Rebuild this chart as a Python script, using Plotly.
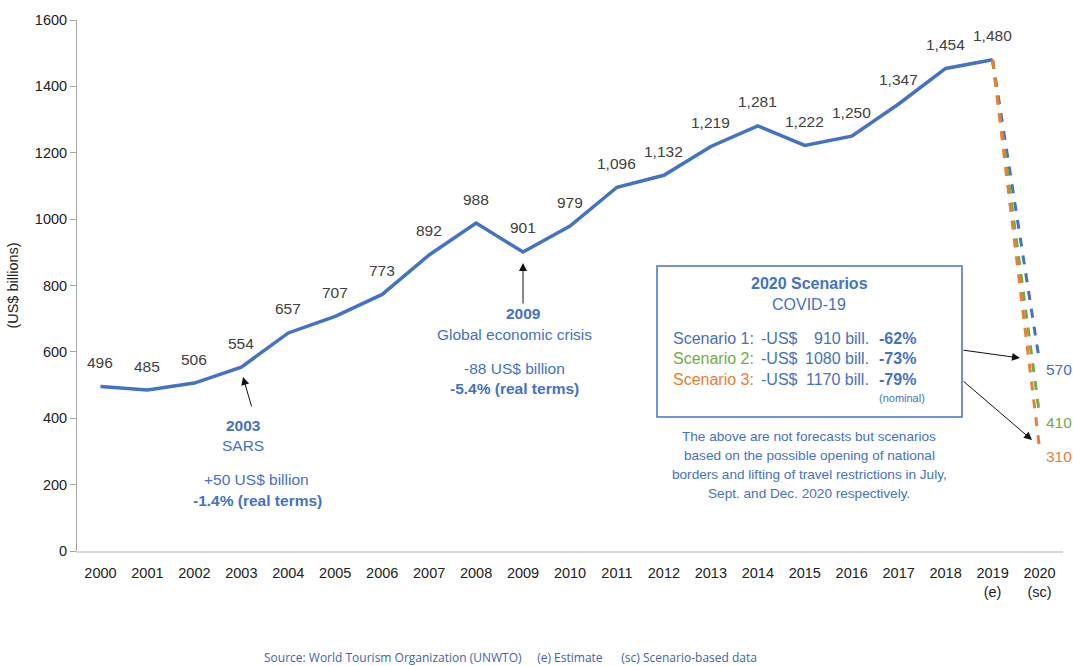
import plotly.graph_objects as go

years = list(range(2000, 2020))
receipts = [496, 485, 506, 554, 657, 707, 773, 892, 988, 901, 979, 1096, 1132,
            1219, 1281, 1222, 1250, 1347, 1454, 1480]
scenario_names = ["Scenario 1", "Scenario 2", "Scenario 3"]
scenario_2020 = [570, 410, 310]
scenario_colors = ["#4472C4", "#70AD47", "#ED7D31"]
scenario_loss = ["910 bill.", "1080 bill.", "1170 bill."]
scenario_pct = ["-62%", "-73%", "-79%"]
tick_years = list(range(2000, 2021))
tick_labels = [str(y) for y in range(2000, 2019)] + ["2019<br>(e)", "2020<br>(sc)"]

BLUE = "#4472C4"
W, H = 1073, 666
L, R, T, B = 77, 10, 20, 115


def px(x):
    return (x - L) / (W - L - R)


def py(y):
    return (H - B - y) / (H - T - B)


fig = go.Figure()
fig.add_trace(go.Scatter(x=years, y=receipts, mode="lines",
                         line=dict(color=BLUE, width=3.5), showlegend=False,
                         hoverinfo="skip"))
for name, v, c in zip(scenario_names, scenario_2020, scenario_colors):
    fig.add_trace(go.Scatter(x=[years[-1], 2020], y=[receipts[-1], v], mode="lines",
                             line=dict(color=c, width=3, dash="dash"),
                             name=name, showlegend=False, hoverinfo="skip"))

ann = []
for x, v in zip(years, receipts):
    ann.append(dict(x=x, y=v, text=f"{v:,}", showarrow=False, yshift=24,
                    font=dict(size=15.5, color="#404040")))
for v, c in zip(scenario_2020, scenario_colors):
    ann.append(dict(x=2020, y=v, text=str(v), showarrow=False, xanchor="left",
                    xshift=4, yshift=-8, font=dict(size=15.5, color=c)))


def txt(x, y, t, size=15.5, color=BLUE, bold=False, xanchor="center"):
    if bold:
        t = f"<b>{t}</b>"
    ann.append(dict(xref="paper", yref="paper", x=px(x), y=py(y), text=t,
                    showarrow=False, xanchor=xanchor, yanchor="middle",
                    font=dict(size=size, color=color)))


# 2003 SARS
txt(243, 425, "2003", bold=True)
txt(243, 446, "SARS")
txt(256, 479, "+50 US$ billion")
txt(257, 500, "-1.4% (real terms)", bold=True)
# 2009
txt(523, 313, "2009", bold=True)
txt(514, 334, "Global economic crisis")
txt(514, 368, "-88 US$ billion")
txt(514, 389, "-5.4% (real terms)", bold=True)
# box
txt(809, 283, "2020 Scenarios", bold=True, size=16)
txt(809, 304, "COVID-19", size=16)
for i, (name, col, loss, pct) in enumerate(zip(scenario_names, scenario_colors,
                                                scenario_loss, scenario_pct)):
    yy = 338 + i * 20.5
    txt(671, yy, f"{name}:", color=col, xanchor="left", size=16)
    txt(759, yy, "-US$", xanchor="left", size=16)
    txt(871, yy, loss, xanchor="right", size=16)
    txt(877, yy, pct, bold=True, xanchor="left", size=16)
txt(902, 398, "(nominal)", size=11)
for i, line in enumerate(["The above are not forecasts but scenarios",
                          "based on the possible opening of national",
                          "borders and lifting of travel restrictions in July,",
                          "Sept. and Dec. 2020 respectively."]):
    txt(809, 436 + i * 19, line, size=13.6)


# arrows (tail x0,y0 -> head x1,y1 in pixels)
def arrow(x0, y0, x1, y1):
    ann.append(dict(xref="paper", yref="paper",
                    x=px(x1), y=py(y1), ax=x0 - x1, ay=y0 - y1, text="",
                    showarrow=True, arrowhead=2, arrowsize=1.6, arrowwidth=1,
                    arrowcolor="#111111"))


arrow(252, 408, 243, 377)
arrow(523, 305, 523, 263)
arrow(962, 350, 1020, 358)
arrow(962, 380, 1032, 440)

# source
ann.append(dict(xref="paper", yref="paper", x=px(510), y=py(657), yanchor="middle",
                text="Source: World Tourism Organization (UNWTO)&nbsp;&nbsp;&nbsp;&nbsp;&nbsp;(e) Estimate&nbsp;&nbsp;&nbsp;&nbsp;&nbsp;&nbsp;(sc) Scenario-based data",
                showarrow=False, font=dict(size=12, color="#3F63B0", family="Open Sans")))

fig.add_shape(type="rect", xref="paper", yref="paper", x0=px(657), x1=px(962),
              y0=py(417), y1=py(266), line=dict(color=BLUE, width=1.5))

fig.update_layout(
    width=W, height=H, margin=dict(l=L, r=R, t=T, b=B, autoexpand=False),
    plot_bgcolor="white", paper_bgcolor="white",
    font=dict(family="Liberation Sans, Arial", size=14, color="#222222"),
    annotations=ann,
    xaxis=dict(range=[1999.5, 2020.5], tickvals=tick_years, ticktext=tick_labels,
               showgrid=False, showline=True, linecolor="#D9D9D9", linewidth=1.5,
               ticks="", ticklabelstandoff=8, zeroline=False,
               tickfont=dict(size=14.5, color="#222222"), fixedrange=True),
    yaxis=dict(range=[0, 1600], dtick=200, showgrid=False, showline=True,
               linecolor="#A6A6A6", ticks="outside", ticklen=6, tickcolor="#A6A6A6",
               zeroline=False, tickfont=dict(size=14.5, color="#222222"),
               title=dict(text="(US$ billions)", font=dict(size=14.5, color="#222222"),
                          standoff=12)),
)

fig.write_html("out.html", config={"displayModeBar": False},
               post_script="document.body.style.margin='0';")
